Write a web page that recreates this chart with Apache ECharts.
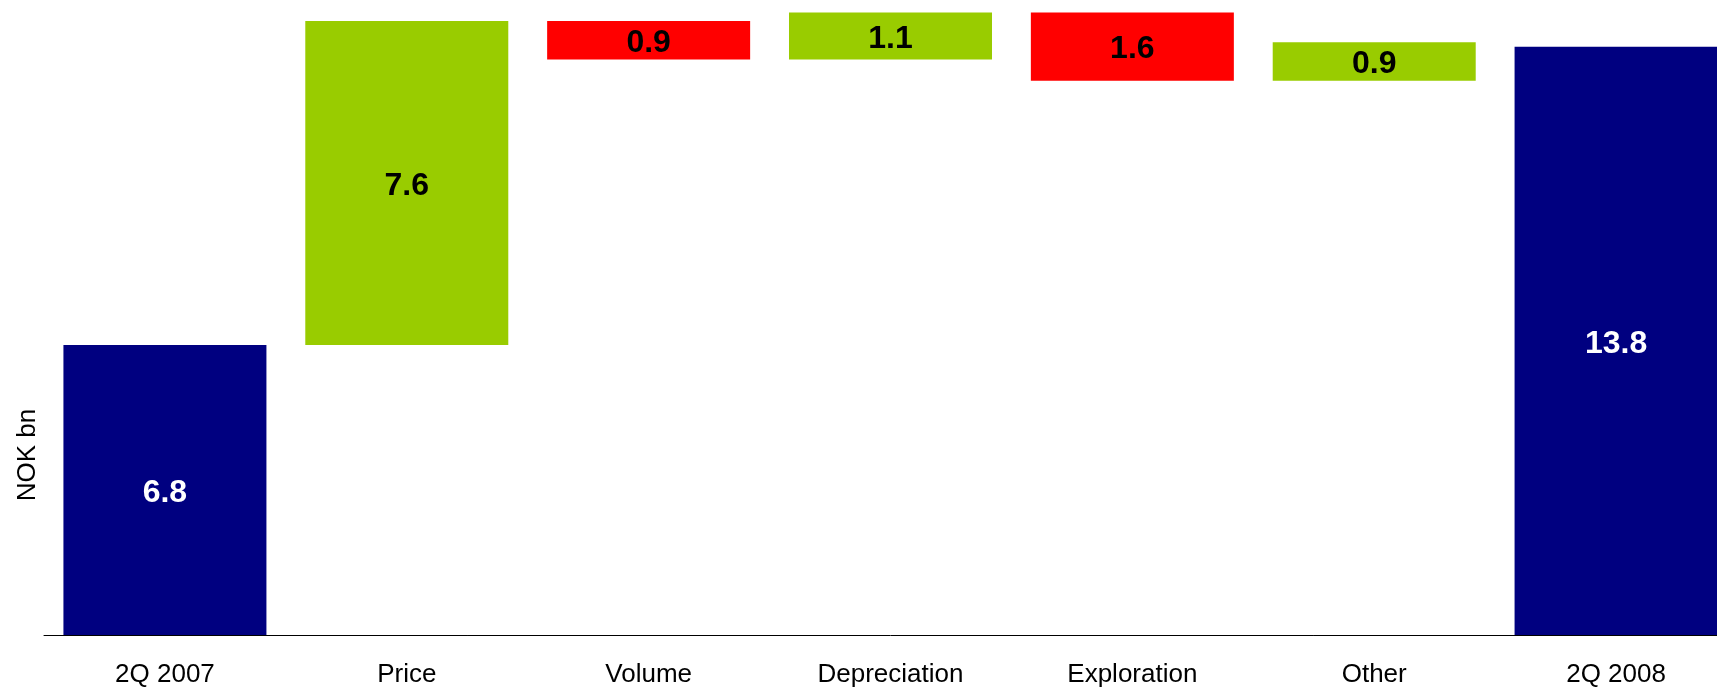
<!DOCTYPE html>
<html>
<head>
<meta charset="utf-8">
<script src="https://cdn.jsdelivr.net/npm/echarts@6/dist/echarts.min.js"></script>
<style>
    html, body { margin: 0; padding: 0; background: #fff; overflow: hidden; }
    /* a little wider than the window: the last bar is cut at the right edge like in the original */
    #main { width: 1737px; height: 690px; }
</style>
</head>
<body>
<div id="main"></div>
<script>
// categories and values (NOK bn)
var categories = ['2Q 2007', 'Price', 'Volume', 'Depreciation', 'Exploration', 'Other', '2Q 2008'];
var values = [6.8, 7.6, -0.9, 1.1, -1.6, 0.9, 13.8];
var isTotal = [true, false, false, false, false, false, true];

var navy = '#000080';
var green = '#99CC00';
var red = '#FF0000';

// build invisible base + visible bar for the waterfall
var baseData = [];
var barData = [];
var running = 0;
for (var i = 0; i < values.length; i++) {
    var v = values[i];
    var color, labelColor;
    if (isTotal[i]) {
        baseData.push(0);
        running = v;
        color = navy;
        labelColor = '#fff';
    } else if (v >= 0) {
        baseData.push(running);
        running += v;
        color = green;
        labelColor = '#000';
    } else {
        running += v;
        baseData.push(running);
        color = red;
        labelColor = '#000';
    }
    barData.push({
        value: Math.abs(v),
        itemStyle: { color: color },
        label: { color: labelColor }
    });
}

var myChart = echarts.init(document.getElementById('main'));
var option = {
    animation: false,
    textStyle: { fontFamily: 'Liberation Sans, Arial, sans-serif' },
    grid: {
        left: 44,
        right: 0,
        top: 4,
        bottom: 55
    },
    xAxis: {
        type: 'category',
        data: categories,
        axisTick: { show: false },
        axisLine: {
            lineStyle: { color: '#000', width: 1 }
        },
        axisLabel: {
            fontSize: 26,
            color: '#000',
            margin: 27,
            interval: 0
        }
    },
    yAxis: {
        type: 'value',
        min: 0,
        max: 14.8,
        show: false,
        splitLine: { show: false }
    },
    graphic: [{
        type: 'text',
        x: 28,
        y: 455,
        rotation: Math.PI / 2,
        style: {
            text: 'NOK bn',
            fontSize: 26,
            fontFamily: 'Liberation Sans, Arial, sans-serif',
            fill: '#000',
            align: 'center',
            verticalAlign: 'middle'
        }
    }],
    series: [
        {
            type: 'bar',
            stack: 'wf',
            barWidth: 203,
            itemStyle: { color: 'transparent' },
            silent: true,
            data: baseData
        },
        {
            type: 'bar',
            stack: 'wf',
            barWidth: 203,
            data: barData,
            label: {
                show: true,
                position: 'inside',
                offset: [0, 3],
                fontSize: 32,
                fontWeight: 'bold',
                formatter: function (p) { return p.value.toFixed(1); }
            }
        }
    ]
};
myChart.setOption(option);
</script>
</body>
</html>
